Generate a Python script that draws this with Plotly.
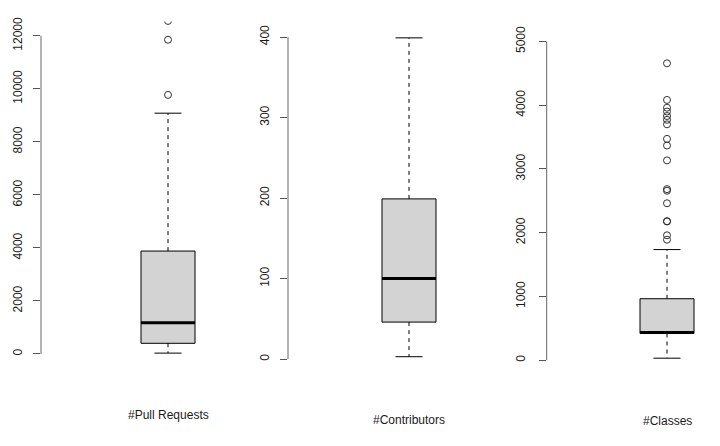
import plotly.graph_objects as go

# ---------------- data ----------------
categories = ["#Pull Requests", "#Contributors", "#Classes"]
q1_vals = [400, 46, 418]
median_vals = [1180, 100, 435]
q3_vals = [3880, 199, 964]
lower_whisker = [30, 3, 31]
upper_whisker = [9080, 399, 1735]
outliers_pr = [9770, 11850, 12560]
outliers_contrib = []
outliers_classes = [4657, 4082, 3960, 3900, 3830, 3770, 3700, 3471, 3367, 3134,
                    2683, 2658, 2461, 2181, 2175, 1959, 1890]
outliers = [outliers_pr, outliers_contrib, outliers_classes]
tick_values = [
    [0, 2000, 4000, 6000, 8000, 10000, 12000],
    [0, 100, 200, 300, 400],
    [0, 1000, 2000, 3000, 4000, 5000],
]
tick_labels = [[str(v) for v in tv] for tv in tick_values]

# ---------------- layout (pixels, page coordinates) ----------------
W, H = 720, 446
OFF = 8  # page body margin offset of the plot div
panels = [
    # axis x, box centre x, plot-area width, top px, bottom px, y-range, label y px, label standoff
    dict(ax=41, cx=168, w=240, top=17.5, bot=372, yr=[-710, 12542], ly=415, so=6),
    dict(ax=288, cx=409, w=200, top=18, bot=372, yr=[-16.9, 418.8], ly=420, so=6),
    dict(ax=546.7, cx=667, w=165, top=18, bot=372, yr=[-197, 5306], ly=421, so=9),
]
BOX_PX = 54
FILL = "#D3D3D3"
TEXT = "#1a1a1a"


def px_x(v):
    return (v - OFF) / W


def px_y(v):
    return 1 - (v - OFF) / H


fig = go.Figure()
layout = dict(width=W, height=H, margin=dict(l=0, r=0, t=0, b=0),
              paper_bgcolor="white", plot_bgcolor="white", showlegend=False,
              font=dict(family="Liberation Sans, Arial, sans-serif", size=12, color=TEXT))
shapes, annotations = [], []

for i, (p, cat) in enumerate(zip(panels, categories)):
    n = "" if i == 0 else str(i + 1)
    xa, ya = "x" + n, "y" + n
    u = p["cx"] - p["ax"]                # px per x-unit
    xr = [-1, p["w"] / u - 1]
    bw = BOX_PX / u
    hw = bw / 2
    pos = 0

    fig.add_trace(go.Box(
        x=[pos], q1=[q1_vals[i]], median=[median_vals[i]], q3=[q3_vals[i]],
        lowerfence=[q1_vals[i]], upperfence=[q3_vals[i]],
        width=bw, fillcolor=FILL, line=dict(color="black", width=1),
        boxpoints=False, whiskerwidth=0, xaxis=xa, yaxis=ya, hoverinfo="skip"))
    # thick median
    fig.add_trace(go.Scatter(x=[pos - hw, pos + hw], y=[median_vals[i]] * 2, mode="lines",
                             line=dict(color="black", width=3), xaxis=xa, yaxis=ya,
                             hoverinfo="skip"))
    # dashed whiskers
    for a, b in [(q3_vals[i], upper_whisker[i]), (q1_vals[i], lower_whisker[i])]:
        fig.add_trace(go.Scatter(x=[pos, pos], y=[a, b], mode="lines",
                                 line=dict(color="black", width=1, dash="4px,4px"),
                                 xaxis=xa, yaxis=ya, hoverinfo="skip"))
    # caps
    for v in [upper_whisker[i], lower_whisker[i]]:
        fig.add_trace(go.Scatter(x=[pos - hw / 2, pos + hw / 2], y=[v, v], mode="lines",
                                 line=dict(color="black", width=1),
                                 xaxis=xa, yaxis=ya, hoverinfo="skip"))
    # outliers
    if outliers[i]:
        fig.add_trace(go.Scatter(x=[pos] * len(outliers[i]), y=outliers[i], mode="markers",
                                 marker=dict(symbol="circle-open", size=7, color="#333",
                                             line=dict(width=1, color="#333")),
                                 xaxis=xa, yaxis=ya, hoverinfo="skip"))

    layout["xaxis" + n] = dict(domain=[px_x(p["ax"]), min(1, px_x(p["ax"] + p["w"]))], range=xr,
                               showticklabels=False, ticks="", showgrid=False,
                               zeroline=False, showline=False, anchor=ya)
    layout["yaxis" + n] = dict(domain=[px_y(p["bot"]), px_y(p["top"])], range=p["yr"],
                               tickvals=tick_values[i], ticktext=tick_labels[i],
                               ticks="outside", ticklen=7,
                               tickcolor="#555", tickwidth=1, tickangle=-90,
                               tickfont=dict(size=12, color=TEXT), ticklabelstandoff=p["so"],
                               showgrid=False, zeroline=False, showline=False, anchor=xa)
    shapes.append(dict(type="line", xref=xa + " domain", yref=ya, x0=0, x1=0,
                       y0=tick_values[i][0], y1=tick_values[i][-1],
                       line=dict(color="#666", width=1)))
    annotations.append(dict(text=cat, xref=xa, yref="paper", x=pos, y=px_y(p["ly"]),
                            xanchor="center", yanchor="middle", showarrow=False,
                            font=dict(size=12, color=TEXT)))

layout["shapes"] = shapes
layout["annotations"] = annotations
fig.update_layout(**layout)
fig.write_html("out.html")
